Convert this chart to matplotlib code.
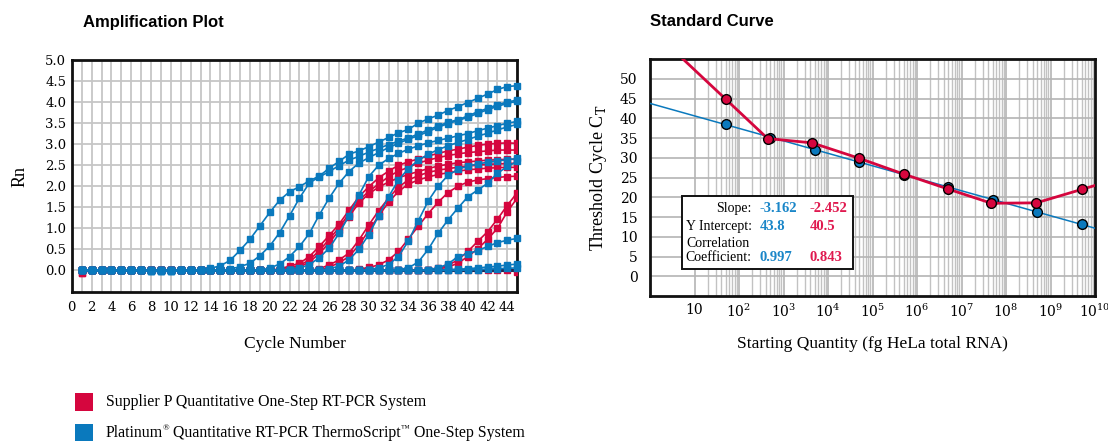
import numpy as np
import matplotlib
matplotlib.use('Agg')
import matplotlib.pyplot as plt
from matplotlib.patches import Rectangle
from matplotlib.ticker import FixedLocator, NullFormatter

# ---------------- data: amplification plot (Rn per cycle) ----------------
cycles = list(range(1, 46))

# Platinum (blue) curves
blue_a = [0.0, 0.0, 0.0, 0.0, 0.0, 0.0, 0.0, -0.02, -0.02, -0.01, 0.0, 0.0,
          0.02, 0.05, 0.11, 0.24, 0.48, 0.74, 1.06, 1.38, 1.67, 1.87, 1.99, 2.13,
          2.24, 2.43, 2.59, 2.76, 2.84, 2.94, 3.05, 3.16, 3.27, 3.35, 3.50, 3.60,
          3.69, 3.80, 3.89, 3.99, 4.09, 4.19, 4.30, 4.37, 4.39]
blue_b = [0.0, 0.0, 0.0, 0.0, 0.0, 0.0, 0.0, -0.02, -0.02, -0.02, 0.0, 0.0,
          0.0, 0.0, 0.0, 0.03, 0.09, 0.17, 0.35, 0.58, 0.90, 1.30, 1.72, 2.08,
          2.22, 2.35, 2.49, 2.62, 2.71, 2.81, 2.90, 2.99, 3.07, 3.15, 3.24, 3.34,
          3.43, 3.52, 3.58, 3.67, 3.77, 3.85, 3.94, 4.00, 4.05]
blue_c = [0.0, 0.0, 0.0, 0.0, 0.0, 0.0, 0.0, 0.0, 0.0, 0.0, 0.0, 0.0,
          0.0, 0.0, 0.0, 0.0, 0.0, 0.0, 0.0, 0.06, 0.15, 0.33, 0.57, 0.88,
          1.32, 1.72, 2.07, 2.35, 2.55, 2.68, 2.80, 2.92, 3.02, 3.12, 3.20, 3.30,
          3.40, 3.49, 3.56, 3.64, 3.73, 3.82, 3.90, 3.97, 4.02]
blue_d = [0.0, 0.0, 0.0, 0.0, 0.0, 0.0, 0.0, 0.0, 0.0, 0.0, 0.0, 0.0,
          0.0, 0.0, 0.0, 0.0, 0.0, 0.0, 0.0, 0.0, 0.0, 0.0, 0.05, 0.14,
          0.30, 0.53, 0.88, 1.30, 1.79, 2.23, 2.50, 2.66, 2.78, 2.88, 2.96, 3.03,
          3.09, 3.14, 3.20, 3.25, 3.32, 3.38, 3.44, 3.50, 3.54]
blue_e = [0.0, 0.0, 0.0, 0.0, 0.0, 0.0, 0.0, 0.0, 0.0, 0.0, 0.0, 0.0,
          0.0, 0.0, 0.0, 0.0, 0.0, 0.0, 0.0, 0.0, 0.0, 0.0, 0.0, 0.0,
          0.0, 0.04, 0.10, 0.25, 0.50, 0.85, 1.30, 1.75, 2.15, 2.42, 2.62, 2.76,
          2.87, 2.96, 3.04, 3.11, 3.19, 3.26, 3.34, 3.41, 3.47]
blue_f = [0.0, 0.0, 0.0, 0.0, 0.0, 0.0, 0.0, 0.0, 0.0, 0.0, 0.0, 0.0,
          0.0, 0.0, 0.0, 0.0, 0.0, 0.0, 0.0, 0.0, 0.0, 0.0, 0.0, 0.0,
          0.0, 0.0, 0.0, 0.0, 0.0, 0.02, 0.06, 0.14, 0.33, 0.70, 1.18, 1.65,
          2.00, 2.26, 2.40, 2.48, 2.53, 2.57, 2.60, 2.63, 2.66]
blue_g = [0.0, 0.0, 0.0, 0.0, 0.0, 0.0, 0.0, 0.0, 0.0, 0.0, 0.0, 0.0,
          0.0, 0.0, 0.0, 0.0, 0.0, 0.0, 0.0, 0.0, 0.0, 0.0, 0.0, 0.0,
          0.0, 0.0, 0.0, 0.0, 0.0, 0.0, 0.0, 0.0, 0.02, 0.06, 0.20, 0.50,
          0.88, 1.20, 1.48, 1.75, 1.91, 2.07, 2.31, 2.47, 2.59]
blue_h = [0.0, 0.0, 0.0, 0.0, 0.0, 0.0, 0.0, 0.0, 0.0, 0.0, 0.0, 0.0,
          0.0, 0.0, 0.0, 0.0, 0.0, 0.0, 0.0, 0.0, 0.0, 0.0, 0.0, 0.0,
          0.0, 0.0, 0.0, 0.0, 0.0, 0.0, 0.0, 0.0, 0.0, 0.0, 0.0, 0.02,
          0.06, 0.15, 0.33, 0.40, 0.47, 0.57, 0.66, 0.72, 0.76]
blue_i = [0.0, 0.0, 0.0, 0.0, 0.0, 0.0, 0.0, -0.02, -0.02, -0.02, 0.0, 0.0,
          0.0, 0.0, 0.0, 0.0, 0.0, 0.0, 0.0, 0.0, 0.0, 0.0, 0.0, 0.0,
          0.0, 0.0, 0.0, 0.0, 0.0, 0.0, 0.0, 0.0, 0.0, 0.0, 0.0, 0.0,
          0.0, 0.02, 0.03, 0.04, 0.06, 0.08, 0.10, 0.13, 0.15]
blue_j = [0.0, 0.0, 0.0, 0.0, 0.0, 0.0, 0.0, 0.0, 0.0, 0.0, 0.0, 0.0,
          0.0, 0.0, 0.0, 0.0, 0.0, 0.0, 0.0, 0.0, 0.0, 0.0, 0.0, 0.0,
          0.0, 0.0, 0.0, 0.0, 0.0, 0.0, 0.0, 0.0, 0.0, 0.0, 0.0, 0.0,
          0.0, 0.0, 0.0, 0.01, 0.02, 0.03, 0.04, 0.05, 0.06]

# Supplier P (red) curves
red_1 = [-0.05, 0.0, 0.0, 0.0, 0.0, 0.0, 0.0, 0.0, 0.0, 0.0, 0.0, 0.0,
         0.0, 0.0, 0.0, 0.0, 0.0, 0.0, 0.0, 0.0, 0.04, 0.10, 0.17, 0.33,
         0.57, 0.83, 1.10, 1.43, 1.75, 1.99, 2.20, 2.36, 2.50, 2.58, 2.65, 2.72,
         2.78, 2.84, 2.88, 2.93, 2.97, 3.00, 3.02, 3.03, 3.02]
red_2 = [0.0, 0.0, 0.0, 0.0, 0.0, 0.0, 0.0, 0.0, 0.0, 0.0, 0.0, 0.0,
         0.0, 0.0, 0.0, 0.0, 0.0, 0.0, 0.0, 0.0, 0.0, 0.06, 0.12, 0.25,
         0.47, 0.74, 1.02, 1.35, 1.66, 1.88, 2.05, 2.23, 2.36, 2.45, 2.55, 2.62,
         2.68, 2.73, 2.77, 2.80, 2.82, 2.84, 2.86, 2.86, 2.86]
red_3 = [0.0, 0.0, 0.0, 0.0, 0.0, 0.0, 0.0, 0.0, 0.0, 0.0, 0.0, 0.0,
         0.0, 0.0, 0.0, 0.0, 0.0, 0.0, 0.0, 0.0, 0.0, 0.0, 0.08, 0.20,
         0.40, 0.66, 0.95, 1.28, 1.60, 1.82, 1.98, 2.10, 2.20, 2.28, 2.35, 2.42,
         2.48, 2.52, 2.56, 2.58, 2.60, 2.62, 2.63, 2.64, 2.64]
red_4 = [0.0, 0.0, 0.0, 0.0, 0.0, 0.0, 0.0, 0.0, 0.0, 0.0, 0.0, 0.0,
         0.0, 0.0, 0.0, 0.0, 0.0, 0.0, 0.0, 0.0, 0.0, 0.0, 0.0, 0.0,
         0.04, 0.13, 0.25, 0.41, 0.72, 1.08, 1.42, 1.72, 1.98, 2.15, 2.25, 2.33,
         2.38, 2.42, 2.45, 2.48, 2.50, 2.52, 2.53, 2.54, 2.55]
red_5 = [0.0, 0.0, 0.0, 0.0, 0.0, 0.0, 0.0, 0.0, 0.0, 0.0, 0.0, 0.0,
         0.0, 0.0, 0.0, 0.0, 0.0, 0.0, 0.0, 0.0, 0.0, 0.0, 0.0, 0.0,
         0.0, 0.08, 0.18, 0.33, 0.60, 0.95, 1.30, 1.62, 1.88, 2.05, 2.15, 2.22,
         2.28, 2.32, 2.36, 2.39, 2.41, 2.43, 2.44, 2.45, 2.45]
red_6 = [0.0, 0.0, 0.0, 0.0, 0.0, 0.0, 0.0, 0.0, 0.0, 0.0, 0.0, 0.0,
         0.0, 0.0, 0.0, 0.0, 0.0, 0.0, 0.0, 0.0, 0.0, 0.0, 0.0, 0.0,
         0.0, 0.0, 0.0, 0.0, 0.03, 0.07, 0.13, 0.25, 0.45, 0.75, 1.05, 1.35,
         1.62, 1.85, 2.00, 2.10, 2.15, 2.18, 2.21, 2.23, 2.24]
red_7 = [0.0, 0.0, 0.0, 0.0, 0.0, 0.0, 0.0, 0.0, 0.0, 0.0, 0.0, 0.0,
         0.0, 0.0, 0.0, 0.0, 0.0, 0.0, 0.0, 0.0, 0.0, 0.0, 0.0, 0.0,
         0.0, 0.0, 0.0, 0.0, 0.0, 0.0, 0.0, 0.0, 0.0, 0.0, 0.0, 0.02,
         0.05, 0.12, 0.25, 0.45, 0.69, 0.92, 1.22, 1.55, 1.85]
red_8 = [0.0, 0.0, 0.0, 0.0, 0.0, 0.0, 0.0, 0.0, 0.0, 0.0, 0.0, 0.0,
         0.0, 0.0, 0.0, 0.0, 0.0, 0.0, 0.0, 0.0, 0.0, 0.0, 0.0, 0.0,
         0.0, 0.0, 0.0, 0.0, 0.0, 0.0, 0.0, 0.0, 0.0, 0.0, 0.0, 0.0,
         0.03, 0.08, 0.17, 0.33, 0.51, 0.74, 1.00, 1.40, 1.72]
red_9 = [-0.05, 0.0, 0.0, 0.0, 0.0, 0.0, 0.0, 0.0, 0.0, 0.0, 0.0, 0.0,
         0.0, 0.0, 0.0, 0.0, 0.0, 0.0, 0.0, 0.0, 0.0, 0.0, 0.0, 0.0,
         0.0, 0.0, 0.0, 0.0, 0.0, 0.0, 0.0, 0.0, 0.0, 0.0, 0.0, 0.0,
         0.0, 0.0, 0.0, 0.0, 0.0, 0.0, 0.0, 0.0, -0.03]

# no template control (dark baseline)
ntc = [0.0] * 45

blue_curves = [blue_a, blue_b, blue_c, blue_d, blue_e, blue_f, blue_g, blue_h, blue_i, blue_j]
red_curves = [red_1, red_2, red_3, red_4, red_5, red_6, red_7, red_8, red_9]

# ---------------- data: standard curve ----------------
blue_qty = [5e1, 5e2, 5e3, 5e4, 5e5, 5e6, 5e7, 5e8, 5e9]
blue_ct = [38.5, 35.1, 32.1, 28.9, 25.7, 22.6, 19.2, 16.2, 13.2]
red_qty = [5e1, 4.4e2, 4.4e3, 5e4, 5e5, 5e6, 4.7e7, 4.8e8, 5e9]
red_ct = [44.9, 34.9, 33.8, 29.9, 25.9, 22.1, 18.5, 18.6, 22.0]
blue_slope, blue_intercept, blue_r = -3.162, 43.8, 0.997
red_slope, red_intercept, red_r = -2.452, 40.5, 0.843

BLUE = '#0a79bd'
RED = '#d5063e'
W, H = 1108, 441

plt.rcParams['font.family'] = 'DejaVu Serif'
plt.rcParams['mathtext.fontset'] = 'dejavuserif'

fig = plt.figure(figsize=(W / 100, H / 100), dpi=100)


def fx(px):
    return px / W


def fy(py):
    return 1 - py / H


# ---------------- amplification plot ----------------
ax1 = fig.add_axes([fx(71.8), fy(292.3), (517.3 - 71.8) / W, (292.3 - 60) / H])
ax1.set_xlim(0, 45)
ax1.set_ylim(-0.52, 5.0)
ax1.set_xticks(list(range(0, 45, 2)))
ax1.xaxis.set_minor_locator(FixedLocator(list(range(1, 46, 2))))
ax1.set_yticks([0.0, 0.5, 1.0, 1.5, 2.0, 2.5, 3.0, 3.5, 4.0, 4.5, 5.0])
ax1.set_yticklabels(['0.0', '0.5', '1.0', '1.5', '2.0', '2.5', '3.0', '3.5', '4.0', '4.5', '5.0'])
ax1.grid(True, which='both', color='#c6c6c6', lw=1.3)
ax1.set_axisbelow(True)
ax1.tick_params(which='both', length=0, labelsize=9.5)
ax1.tick_params(axis='x', pad=6)
ax1.tick_params(axis='y', pad=4)
for s in ax1.spines.values():
    s.set_linewidth(2)
    s.set_color('#111111')

for curve in red_curves:
    ax1.plot(cycles, curve, color=RED, lw=1.2, marker='s', ms=4.5, mec=RED, zorder=3)
ax1.plot(cycles, ntc, color='#27274f', lw=2.2, zorder=3.5)
for curve in blue_curves:
    ax1.plot(cycles, curve, color=BLUE, lw=1.2, marker='s', ms=4.5, mec=BLUE, zorder=4, clip_on=False)

ax1.set_xlabel('Cycle Number', family='Liberation Serif', fontsize=12.5, labelpad=16)
ax1.set_ylabel('Rn', family='Liberation Serif', fontsize=13, labelpad=12)

fig.text(fx(83), fy(22), 'Amplification Plot', family='Liberation Sans', fontweight='bold',
         fontsize=12, va='center', ha='left')

# ---------------- standard curve ----------------
ax2 = fig.add_axes([fx(650), fy(296), (1095 - 650) / W, (296 - 59.2) / H])
ax2.set_xscale('log')
ax2.set_xlim(1, 1e10)
ax2.set_ylim(-5, 55)
decades = [1e1, 1e2, 1e3, 1e4, 1e5, 1e6, 1e7, 1e8, 1e9, 1e10]
ax2.xaxis.set_major_locator(FixedLocator(decades))
ax2.set_xticklabels(['10', '$10^2$', '$10^3$', '$10^4$', '$10^5$', '$10^6$',
                     '$10^7$', '$10^8$', '$10^9$', '$10^{10}$'])
minor = [k * d for d in decades[:-1] for k in range(2, 10)]
ax2.xaxis.set_minor_locator(FixedLocator(minor))
ax2.xaxis.set_minor_formatter(NullFormatter())
ax2.set_yticks([0, 5, 10, 15, 20, 25, 30, 35, 40, 45, 50])
ax2.grid(True, which='major', color='#b4b4b4', lw=1.2)
ax2.grid(True, which='minor', axis='x', color='#c2c2c2', lw=1.0)
ax2.set_axisbelow(True)
ax2.tick_params(which='both', length=0, labelsize=10)
ax2.tick_params(axis='y', pad=9)
ax2.tick_params(axis='x', pad=5)
for s in ax2.spines.values():
    s.set_linewidth(2)
    s.set_color('#111111')

# blue regression line over the full axis
xs = np.array([1.0, 1e10])
ax2.plot(xs, blue_intercept + blue_slope * np.log10(xs), color=BLUE, lw=1.1, zorder=3)
ax2.plot(blue_qty, blue_ct, 'o', color=BLUE, mec='black', mew=1.0, ms=7, zorder=4)

# red connecting line, extended to the axis edges along its end segments
lx = np.log10(red_qty)
s0 = (red_ct[1] - red_ct[0]) / (lx[1] - lx[0])
s1 = (red_ct[-1] - red_ct[-2]) / (lx[-1] - lx[-2])
rx = [1.0] + red_qty + [1e10]
ry = [red_ct[0] - s0 * lx[0]] + red_ct + [red_ct[-1] + s1 * (10 - lx[-1])]
ax2.plot(rx, ry, color=RED, lw=2.0, zorder=5)
ax2.plot(red_qty, red_ct, 'o', color=RED, mec='black', mew=1.0, ms=7, zorder=6)

ax2.set_xlabel('Starting Quantity (fg HeLa total RNA)', family='Liberation Serif',
               fontsize=12.5, labelpad=11)
ax2.set_ylabel('Threshold Cycle C$_\\mathrm{T}$', family='Liberation Serif',
               fontsize=13, labelpad=8)

fig.text(fx(650), fy(22), 'Standard Curve', family='Liberation Sans', fontweight='bold',
         fontsize=12, va='center', ha='left')

# statistics box
fig.patches.append(Rectangle((fx(681.7), fy(269.3)), (853.3 - 681.7) / W, (269.3 - 196) / H,
                             transform=fig.transFigure, facecolor='white',
                             edgecolor='#111111', lw=1.4, zorder=10))
tkw = dict(family='Liberation Serif', fontsize=10, va='center', zorder=11)
fig.text(fx(751.7), fy(208.3), 'Slope:', ha='right', **tkw)
fig.text(fx(751.7), fy(226.7), 'Y Intercept:', ha='right', **tkw)
fig.text(fx(686.7), fy(243.3), 'Correlation', ha='left', **tkw)
fig.text(fx(751.7), fy(257.3), 'Coefficient:', ha='right', **tkw)
bkw = dict(family='Liberation Serif', fontsize=10.5, fontweight='bold', va='center', ha='left', zorder=11)
fig.text(fx(759.3), fy(208.3), f'{blue_slope:.3f}', color='#1a86c8', **bkw)
fig.text(fx(759.3), fy(226.7), f'{blue_intercept:.1f}', color='#1a86c8', **bkw)
fig.text(fx(759.3), fy(257.3), f'{blue_r:.3f}', color='#1a86c8', **bkw)
fig.text(fx(810), fy(208.3), f'{red_slope:.3f}', color='#e0194f', **bkw)
fig.text(fx(810), fy(226.7), f'{red_intercept:.1f}', color='#e0194f', **bkw)
fig.text(fx(810), fy(257.3), f'{red_r:.3f}', color='#e0194f', **bkw)

# ---------------- legend ----------------
renderer = fig.canvas.get_renderer()


def legend_line(x_px, y_px, chunks, size=11.4):
    # chunks: (text, is_superscript); superscripts drawn small and raised
    x = x_px
    for txt, sup in chunks:
        fs = size * 0.55 if sup else size
        yy = y_px - 4 if sup else y_px
        t = fig.text(fx(x), fy(yy), txt, family='Liberation Serif', fontsize=fs,
                     va='center', ha='left')
        x += t.get_window_extent(renderer).width


legend_items = [
    (RED, 401.7, [('Supplier P Quantitative One-Step RT-PCR System', False)]),
    (BLUE, 432.7, [('Platinum', False), ('\u00ae', True),
                   (' Quantitative RT-PCR ThermoScript', False), ('\u2122', True),
                   (' One-Step System', False)]),
]
for col, yc, chunks in legend_items:
    fig.patches.append(Rectangle((fx(75), fy(yc + 8.8)), 18.3 / W, 17.6 / H,
                                 transform=fig.transFigure, facecolor=col, edgecolor='none'))
    legend_line(105.7, yc, chunks)

fig.savefig('out.png', dpi=100)
